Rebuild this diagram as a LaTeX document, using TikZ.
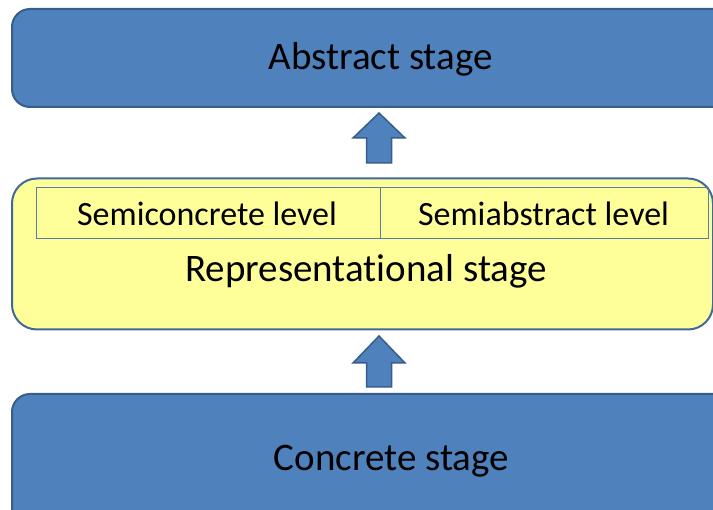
\documentclass[tikz,border=0pt]{standalone}
\usepackage{fontspec}
\setmainfont{Carlito}[Ligatures={NoCommon}]
\definecolor{fillblue}{HTML}{4F81BD}
\definecolor{bdblue}{HTML}{385D8A}
\definecolor{fillyellow}{HTML}{FFFF99}
\definecolor{repline}{HTML}{41689A}
\definecolor{cellline}{HTML}{5A7BA8}
\tikzset{
  stagebox/.style={draw=bdblue, fill=fillblue, line width=2pt, rounded corners=18pt, inner sep=0pt, anchor=north west},
  repbox/.style={draw=repline, fill=fillyellow, line width=2pt, rounded corners=25pt, inner sep=0pt, anchor=north west},
  cellbox/.style={draw=cellline, line width=0.9pt, minimum height=51pt, inner sep=0pt, anchor=north west},
  biglabel/.style={font=\fontsize{39}{47}\selectfont, anchor=base, inner sep=0pt},
  smalllabel/.style={font=\fontsize{34}{41}\selectfont, anchor=base, inner sep=0pt},
  blockarrow/.style={draw=bdblue, fill=fillblue, line width=1.5pt, line join=miter}
}
\begin{document}
\begin{tikzpicture}[x=1pt,y=-1pt]
\useasboundingbox (0,0) rectangle (713,510);
\clip (0,0) rectangle (713,510);
\fill[white] (0,0) rectangle (713,510);
% Abstract stage
\node[stagebox, minimum width=720pt, minimum height=98pt] (abs) at (11,8) {};
\node[biglabel] (abslbl) at (380.5,70) {Abstract stage};
% Representational stage
\node[repbox, minimum width=701pt, minimum height=151pt] (rep) at (11,177.5) {};
\node[cellbox, minimum width=344pt] (semic) at (36,187) {};
\node[cellbox, minimum width=328pt] (semia) at (380,187) {};
\node[smalllabel] (semiclbl) at (207,225.5) {Semiconcrete level};
\node[smalllabel] (semialbl) at (543.5,225.5) {Semiabstract level};
\node[biglabel] (replbl) at (366,282) {Representational stage};
% Concrete stage
\node[stagebox, minimum width=720pt, minimum height=160pt] (con) at (11,393) {};
\node[biglabel] (conlbl) at (391.5,471) {Concrete stage};
% Arrows
\coordinate (tipA) at (379,113);
\draw[blockarrow] (tipA) -- ++(26,25) -- ++(-13.5,0) -- ++(0,25) -- ++(-25,0) -- ++(0,-25) -- ++(-13.5,0) -- cycle;
\coordinate (tipB) at (379,336);
\draw[blockarrow] (tipB) -- ++(26,27) -- ++(-13.5,0) -- ++(0,24) -- ++(-25,0) -- ++(0,-24) -- ++(-13.5,0) -- cycle;
\end{tikzpicture}
\end{document}
